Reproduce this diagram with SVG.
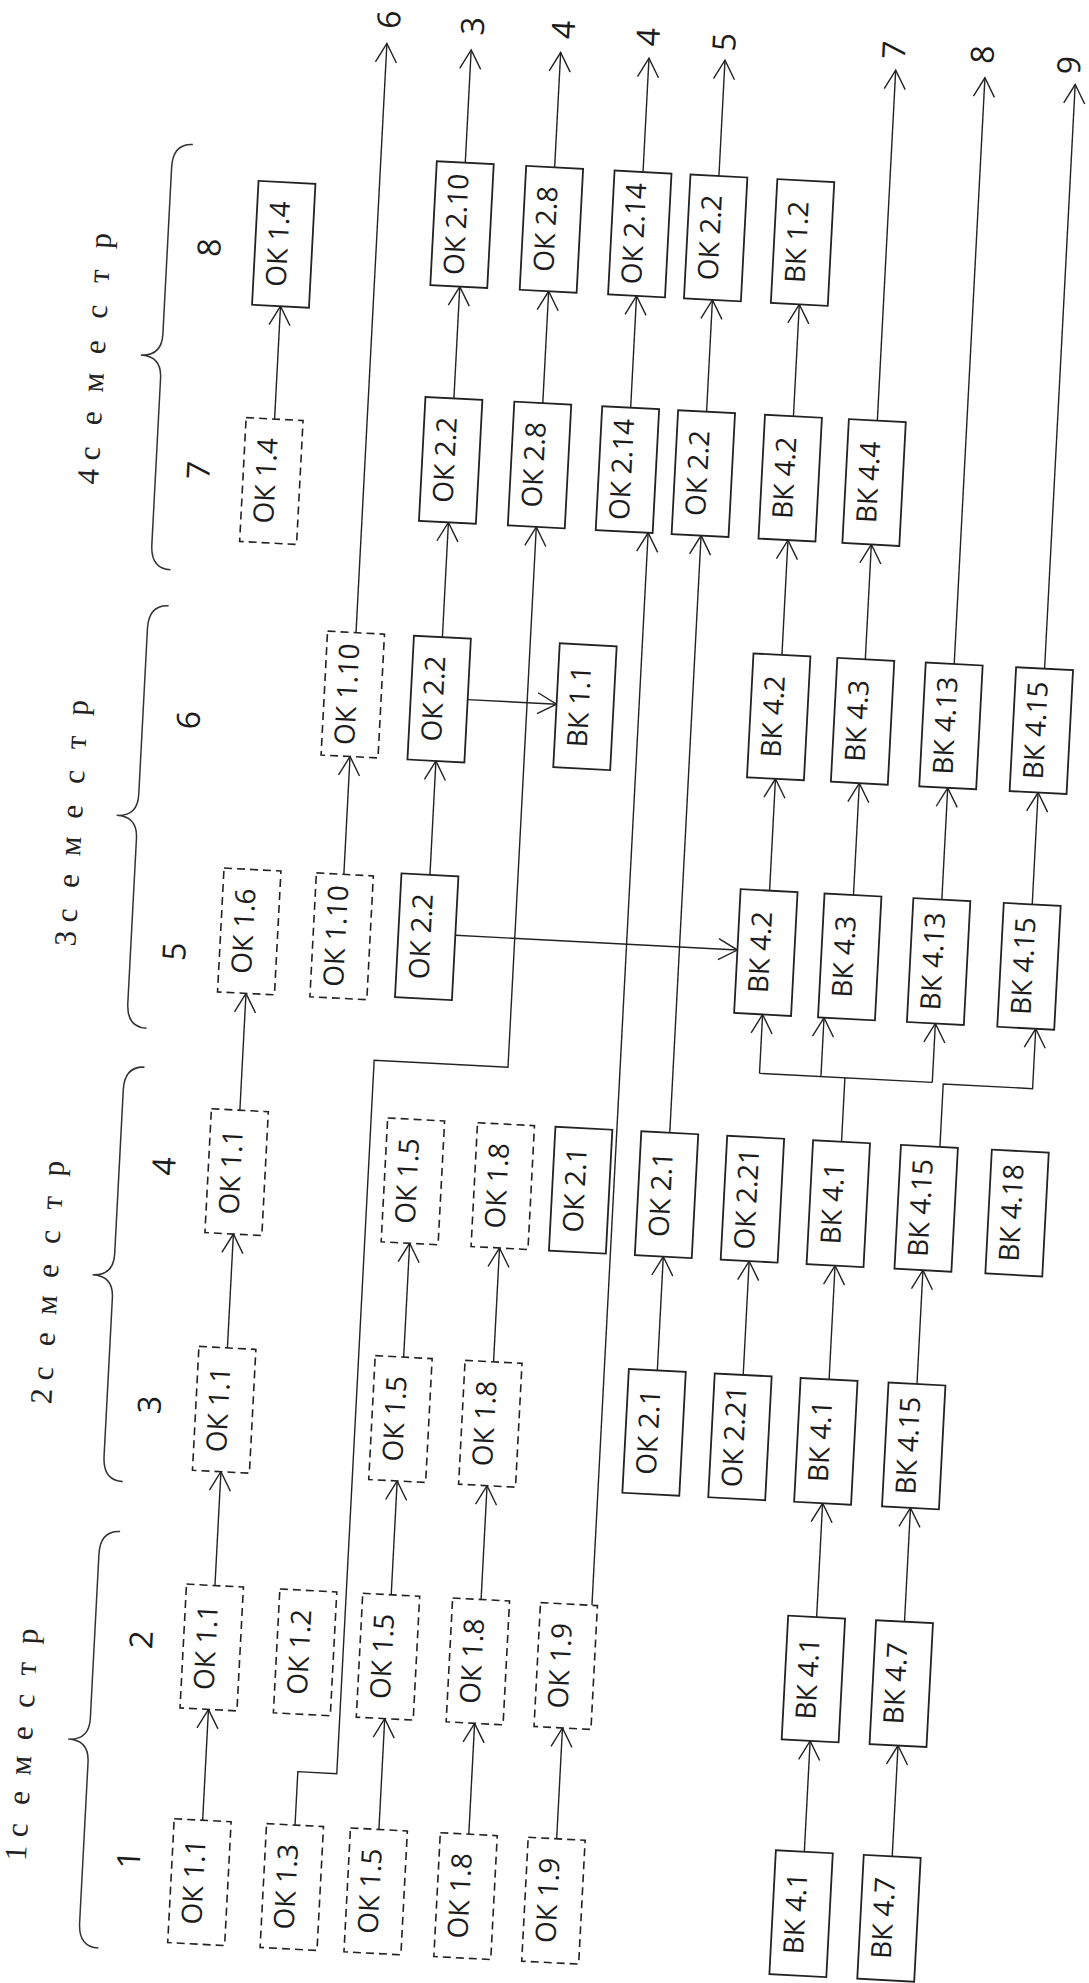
<svg xmlns="http://www.w3.org/2000/svg" width="1089" height="1983" viewBox="0 0 1089 1983">
<style>
.s{fill:#fff;stroke:#222;stroke-width:1.8}
.d{fill:#fff;stroke:#222;stroke-width:1.6;stroke-dasharray:8 5}
.t{font-family:"Open Sans","Noto Sans","DejaVu Sans",sans-serif;font-size:28px;fill:#1c1c1c;text-anchor:middle}
.n{font-family:"Open Sans","Noto Sans","DejaVu Sans",sans-serif;font-size:32px;fill:#1c1c1c;text-anchor:middle}
.sem{font-family:"Liberation Serif","DejaVu Serif",serif;font-size:31px;fill:#222;text-anchor:middle}
.c{fill:none;stroke:#222;stroke-width:1.4}
.br{fill:none;stroke:#333;stroke-width:1.5}
</style>
<defs>
<marker id="a" markerWidth="22" markerHeight="24" refX="20" refY="11.5" orient="auto" markerUnits="userSpaceOnUse" overflow="visible">
<path d="M1,1 L20,11.5 L1,22" fill="none" stroke="#222" stroke-width="1.4"/>
</marker>
</defs>
<rect width="1089" height="1983" fill="#fff"/>
<g transform="rotate(3 544.5 991.5)">

<g id="headers">
<path class="br" d="M149,1553 Q129,1553 129,1577 L129,1741 Q129,1763 108,1763 Q129,1763 129,1785 L129,1946 Q129,1970 149,1970"/>
<path class="br" d="M149,1088 Q129,1088 129,1112 L129,1276 Q129,1298 108,1298 Q129,1298 129,1320 L129,1479 Q129,1503 149,1503"/>
<path class="br" d="M149,626 Q129,626 129,650 L129,816 Q129,838 108,838 Q129,838 129,860 L129,1025 Q129,1049 149,1049"/>
<path class="br" d="M149,164 Q129,164 129,188 L129,355 Q129,377 108,377 Q129,377 129,399 L129,566 Q129,590 149,590"/>
<text class="sem" transform="translate(72,1771) rotate(-90)" x="-108.5 -97 -85.5 -69.3 -53.2 -37 -20.8 -4.7 11.5 27.7 43.8 60 76.2 92.3 108.5">1 с е м е с т р</text>
<text class="sem" transform="translate(73.5,1308) rotate(-90)" x="-114 -102.5 -91 -73.9 -56.8 -39.8 -22.7 -5.6 11.5 28.6 45.7 62.7 79.8 96.9 114">2 с е м е с т р</text>
<text class="sem" transform="translate(73.5,848) rotate(-90)" x="-115.5 -104 -92.5 -75.2 -57.8 -40.5 -23.2 -5.8 11.5 28.8 46.2 63.5 80.8 98.2 115.5">3 с е м е с т р</text>
<text class="sem" transform="translate(72,383) rotate(-90)" x="-118 -106.5 -95 -77.3 -59.5 -41.8 -24 -6.3 11.5 29.3 47 64.8 82.5 100.3 118">4 с е м е с т р</text>
<text class="n" transform="translate(186,1880) rotate(-90)">1</text>
<text class="n" transform="translate(187,1660) rotate(-90)">2</text>
<text class="n" transform="translate(183,1425) rotate(-90)">3</text>
<text class="n" transform="translate(185,1186) rotate(-90)">4</text>
<text class="n" transform="translate(184,971) rotate(-90)">5</text>
<text class="n" transform="translate(186,739) rotate(-90)">6</text>
<text class="n" transform="translate(183,489) rotate(-90)">7</text>
<text class="n" transform="translate(182,266) rotate(-90)">8</text>
</g>

<g id="connectors" class="c">
<path d="M246.5,1837 V1726" marker-end="url(#a)"/>
<path d="M423,1837 V1726" marker-end="url(#a)"/>
<path d="M513,1837 V1726" marker-end="url(#a)"/>
<path d="M601,1837 V1726" marker-end="url(#a)"/>
<path d="M849,1837 V1726" marker-end="url(#a)"/>
<path d="M937,1837 V1726" marker-end="url(#a)"/>
<path d="M246.5,1602 V1488" marker-end="url(#a)"/>
<path d="M423,1602 V1488" marker-end="url(#a)"/>
<path d="M513,1602 V1488" marker-end="url(#a)"/>
<path d="M849,1602 V1488" marker-end="url(#a)"/>
<path d="M937,1602 V1488" marker-end="url(#a)"/>
<path d="M246.5,1364 V1250" marker-end="url(#a)"/>
<path d="M423,1364 V1250" marker-end="url(#a)"/>
<path d="M513,1364 V1250" marker-end="url(#a)"/>
<path d="M677,1364 V1250" marker-end="url(#a)"/>
<path d="M763,1364 V1250" marker-end="url(#a)"/>
<path d="M849,1364 V1250" marker-end="url(#a)"/>
<path d="M937,1364 V1250" marker-end="url(#a)"/>
<path d="M246.5,1126 V1009" marker-end="url(#a)"/>
<path d="M849,1126 V1062 M763.5,1062 H936.5"/>
<path d="M763.5,1062 V1003" marker-end="url(#a)"/>
<path d="M825,1062 V1003" marker-end="url(#a)"/>
<path d="M936.5,1062 V1003" marker-end="url(#a)"/>
<path d="M947.5,1126 V1063 H1037 V1003" marker-end="url(#a)"/>
<path d="M338,885 V767" marker-end="url(#a)"/>
<path d="M424,881 V767" marker-end="url(#a)"/>
<path d="M764,879 V767" marker-end="url(#a)"/>
<path d="M848,879 V767" marker-end="url(#a)"/>
<path d="M936.5,879 V767" marker-end="url(#a)"/>
<path d="M1027,879 V767" marker-end="url(#a)"/>
<path d="M452.5,940 H735" marker-end="url(#a)"/>
<path d="M452.5,704 H541.5" marker-end="url(#a)"/>
<path d="M424,643 V528" marker-end="url(#a)"/>
<path d="M764,643 V528" marker-end="url(#a)"/>
<path d="M847.5,643 V528" marker-end="url(#a)"/>
<path d="M245,434 V321" marker-end="url(#a)"/>
<path d="M423,404 V292" marker-end="url(#a)"/>
<path d="M512,404 V292" marker-end="url(#a)"/>
<path d="M600,404 V292" marker-end="url(#a)"/>
<path d="M676,404 V292" marker-end="url(#a)"/>
<path d="M763,404 V292" marker-end="url(#a)"/>
<path d="M422,168 V55" marker-end="url(#a)"/>
<path d="M511.5,168 V53" marker-end="url(#a)"/>
<path d="M600,168 V54" marker-end="url(#a)"/>
<path d="M676,168 V52" marker-end="url(#a)"/>
<path d="M337.5,643 V53" marker-end="url(#a)"/>
<path d="M847,404 V53" marker-end="url(#a)"/>
<path d="M936.5,643 V56" marker-end="url(#a)"/>
<path d="M1027,643 V58" marker-end="url(#a)"/>
<path d="M339,1837 V1783.5 H378 V1069 H512 V528" marker-end="url(#a)"/>
<path d="M624,1602 V528" marker-end="url(#a)"/>
<path d="M677,1126 V528" marker-end="url(#a)"/>
</g>

<g id="out-labels">
<text class="n" transform="translate(349.5,29) rotate(-90)">6</text>
<text class="n" transform="translate(433.5,31) rotate(-90)">3</text>
<text class="n" transform="translate(524.5,30) rotate(-90)">4</text>
<text class="n" transform="translate(609.5,33) rotate(-90)">4</text>
<text class="n" transform="translate(685.5,34) rotate(-90)">5</text>
<text class="n" transform="translate(855.5,33) rotate(-90)">7</text>
<text class="n" transform="translate(944,33) rotate(-90)">8</text>
<text class="n" transform="translate(1031,39) rotate(-90)">9</text>
</g>

<!-- semester 1 -->
<g id="s1-ok11"><rect class="d" x="218" y="1837" width="57" height="124"/><text class="t" transform="translate(246.5,1899) rotate(-90)" y="4">ОК 1.1</text></g>
<g id="s1-ok13"><rect class="d" x="310.5" y="1837" width="57" height="124"/><text class="t" transform="translate(339,1899) rotate(-90)" y="4">ОК 1.3</text></g>
<g id="s1-ok15"><rect class="d" x="394.5" y="1837" width="57" height="124"/><text class="t" transform="translate(423,1899) rotate(-90)" y="4">ОК 1.5</text></g>
<g id="s1-ok18"><rect class="d" x="484.5" y="1837" width="57" height="124"/><text class="t" transform="translate(513,1899) rotate(-90)" y="4">ОК 1.8</text></g>
<g id="s1-ok19"><rect class="d" x="572.5" y="1837" width="57" height="124"/><text class="t" transform="translate(601,1899) rotate(-90)" y="4">ОК 1.9</text></g>
<g id="s1-vk41"><rect class="s" x="820.5" y="1837" width="57" height="124"/><text class="t" transform="translate(849,1899) rotate(-90)" y="4">ВК 4.1</text></g>
<g id="s1-vk47"><rect class="s" x="908.5" y="1837" width="57" height="124"/><text class="t" transform="translate(937,1899) rotate(-90)" y="4">ВК 4.7</text></g>

<!-- semester 2 -->
<g id="s2-ok11"><rect class="d" x="218" y="1602" width="57" height="124"/><text class="t" transform="translate(246.5,1664) rotate(-90)" y="4">ОК 1.1</text></g>
<g id="s2-ok12"><rect class="d" x="311.5" y="1602" width="57" height="124"/><text class="t" transform="translate(340,1664) rotate(-90)" y="4">ОК 1.2</text></g>
<g id="s2-ok15"><rect class="d" x="394.5" y="1602" width="57" height="124"/><text class="t" transform="translate(423,1664) rotate(-90)" y="4">ОК 1.5</text></g>
<g id="s2-ok18"><rect class="d" x="484.5" y="1602" width="57" height="124"/><text class="t" transform="translate(513,1664) rotate(-90)" y="4">ОК 1.8</text></g>
<g id="s2-ok19"><rect class="d" x="572.5" y="1602" width="57" height="124"/><text class="t" transform="translate(601,1664) rotate(-90)" y="4">ОК 1.9</text></g>
<g id="s2-vk41"><rect class="s" x="820.5" y="1602" width="57" height="124"/><text class="t" transform="translate(849,1664) rotate(-90)" y="4">ВК 4.1</text></g>
<g id="s2-vk47"><rect class="s" x="908.5" y="1602" width="57" height="124"/><text class="t" transform="translate(937,1664) rotate(-90)" y="4">ВК 4.7</text></g>

<!-- semester 3 -->
<g id="s3-ok11"><rect class="d" x="218" y="1364" width="57" height="124"/><text class="t" transform="translate(246.5,1426) rotate(-90)" y="4">ОК 1.1</text></g>
<g id="s3-ok15"><rect class="d" x="394.5" y="1364" width="57" height="124"/><text class="t" transform="translate(423,1426) rotate(-90)" y="4">ОК 1.5</text></g>
<g id="s3-ok18"><rect class="d" x="484.5" y="1364" width="57" height="124"/><text class="t" transform="translate(513,1426) rotate(-90)" y="4">ОК 1.8</text></g>
<g id="s3-ok21"><rect class="s" x="648.5" y="1364" width="57" height="124"/><text class="t" transform="translate(677,1426) rotate(-90)" y="4">ОК 2.1</text></g>
<g id="s3-ok221"><rect class="s" x="734.5" y="1364" width="57" height="124"/><text class="t" transform="translate(763,1426) rotate(-90)" y="4">ОК 2.21</text></g>
<g id="s3-vk41"><rect class="s" x="820.5" y="1364" width="57" height="124"/><text class="t" transform="translate(849,1426) rotate(-90)" y="4">ВК 4.1</text></g>
<g id="s3-vk415"><rect class="s" x="908.5" y="1364" width="57" height="124"/><text class="t" transform="translate(937,1426) rotate(-90)" y="4">ВК 4.15</text></g>

<!-- semester 4 -->
<g id="s4-ok11"><rect class="d" x="218" y="1126" width="57" height="124"/><text class="t" transform="translate(246.5,1188) rotate(-90)" y="4">ОК 1.1</text></g>
<g id="s4-ok15"><rect class="d" x="394.5" y="1126" width="57" height="124"/><text class="t" transform="translate(423,1188) rotate(-90)" y="4">ОК 1.5</text></g>
<g id="s4-ok18"><rect class="d" x="484.5" y="1126" width="57" height="124"/><text class="t" transform="translate(513,1188) rotate(-90)" y="4">ОК 1.8</text></g>
<g id="s4-ok21a"><rect class="s" x="562.5" y="1126" width="57" height="124"/><text class="t" transform="translate(591,1188) rotate(-90)" y="4">ОК 2.1</text></g>
<g id="s4-ok21b"><rect class="s" x="648.5" y="1126" width="57" height="124"/><text class="t" transform="translate(677,1188) rotate(-90)" y="4">ОК 2.1</text></g>
<g id="s4-ok221"><rect class="s" x="734.5" y="1126" width="57" height="124"/><text class="t" transform="translate(763,1188) rotate(-90)" y="4">ОК 2.21</text></g>
<g id="s4-vk41"><rect class="s" x="820.5" y="1126" width="57" height="124"/><text class="t" transform="translate(849,1188) rotate(-90)" y="4">ВК 4.1</text></g>
<g id="s4-vk415"><rect class="s" x="908.5" y="1126" width="57" height="124"/><text class="t" transform="translate(937,1188) rotate(-90)" y="4">ВК 4.15</text></g>
<g id="s4-vk418"><rect class="s" x="999.5" y="1126" width="57" height="124"/><text class="t" transform="translate(1028,1188) rotate(-90)" y="4">ВК 4.18</text></g>

<!-- semester 5 -->
<g id="s5-ok16"><rect class="d" x="218" y="885" width="57" height="124"/><text class="t" transform="translate(246.5,947) rotate(-90)" y="4">ОК 1.6</text></g>
<g id="s5-ok110"><rect class="d" x="310.5" y="885" width="57" height="124"/><text class="t" transform="translate(339,947) rotate(-90)" y="4">ОК 1.10</text></g>
<g id="s5-ok22"><rect class="s" x="395.5" y="881" width="57" height="124"/><text class="t" transform="translate(424,943) rotate(-90)" y="4">ОК 2.2</text></g>
<g id="s5-vk42"><rect class="s" x="735" y="879" width="57" height="124"/><text class="t" transform="translate(763.5,941) rotate(-90)" y="4">ВК 4.2</text></g>
<g id="s5-vk43"><rect class="s" x="819" y="879" width="57" height="124"/><text class="t" transform="translate(847.5,941) rotate(-90)" y="4">ВК 4.3</text></g>
<g id="s5-vk413"><rect class="s" x="908" y="879" width="57" height="124"/><text class="t" transform="translate(936.5,941) rotate(-90)" y="4">ВК 4.13</text></g>
<g id="s5-vk415"><rect class="s" x="998.5" y="879" width="57" height="124"/><text class="t" transform="translate(1027,941) rotate(-90)" y="4">ВК 4.15</text></g>

<!-- semester 6 -->
<g id="s6-ok110"><rect class="d" x="309" y="643" width="57" height="124"/><text class="t" transform="translate(337.5,705) rotate(-90)" y="4">ОК 1.10</text></g>
<g id="s6-ok22"><rect class="s" x="395.5" y="643" width="57" height="124"/><text class="t" transform="translate(424,705) rotate(-90)" y="4">ОК 2.2</text></g>
<g id="s6-vk11"><rect class="s" x="541.5" y="643" width="57" height="124"/><text class="t" transform="translate(570,705) rotate(-90)" y="4">ВК 1.1</text></g>
<g id="s6-vk42"><rect class="s" x="735.5" y="643" width="57" height="124"/><text class="t" transform="translate(764,705) rotate(-90)" y="4">ВК 4.2</text></g>
<g id="s6-vk43"><rect class="s" x="819.5" y="643" width="57" height="124"/><text class="t" transform="translate(848,705) rotate(-90)" y="4">ВК 4.3</text></g>
<g id="s6-vk413"><rect class="s" x="908" y="643" width="57" height="124"/><text class="t" transform="translate(936.5,705) rotate(-90)" y="4">ВК 4.13</text></g>
<g id="s6-vk415"><rect class="s" x="998.5" y="643" width="57" height="124"/><text class="t" transform="translate(1027,705) rotate(-90)" y="4">ВК 4.15</text></g>

<!-- semester 7 -->
<g id="s7-ok14"><rect class="d" x="216.5" y="434" width="57" height="124"/><text class="t" transform="translate(245,496) rotate(-90)" y="4">ОК 1.4</text></g>
<g id="s7-ok22a"><rect class="s" x="394.5" y="404" width="57" height="124"/><text class="t" transform="translate(423,466) rotate(-90)" y="4">ОК 2.2</text></g>
<g id="s7-ok28"><rect class="s" x="483.5" y="404" width="57" height="124"/><text class="t" transform="translate(512,466) rotate(-90)" y="4">ОК 2.8</text></g>
<g id="s7-ok214"><rect class="s" x="571.5" y="404" width="57" height="124"/><text class="t" transform="translate(600,466) rotate(-90)" y="4">ОК 2.14</text></g>
<g id="s7-ok22b"><rect class="s" x="647.5" y="404" width="57" height="124"/><text class="t" transform="translate(676,466) rotate(-90)" y="4">ОК 2.2</text></g>
<g id="s7-vk42"><rect class="s" x="734.5" y="404" width="57" height="124"/><text class="t" transform="translate(763,466) rotate(-90)" y="4">ВК 4.2</text></g>
<g id="s7-vk44"><rect class="s" x="818.5" y="404" width="57" height="124"/><text class="t" transform="translate(847,466) rotate(-90)" y="4">ВК 4.4</text></g>

<!-- semester 8 -->
<g id="s8-ok14"><rect class="s" x="216.5" y="197" width="57" height="124"/><text class="t" transform="translate(245,259) rotate(-90)" y="4">ОК 1.4</text></g>
<g id="s8-ok210"><rect class="s" x="393.5" y="168" width="57" height="124"/><text class="t" transform="translate(422,230) rotate(-90)" y="4">ОК 2.10</text></g>
<g id="s8-ok28"><rect class="s" x="483" y="168" width="57" height="124"/><text class="t" transform="translate(511.5,230) rotate(-90)" y="4">ОК 2.8</text></g>
<g id="s8-ok214"><rect class="s" x="571.5" y="168" width="57" height="124"/><text class="t" transform="translate(600,230) rotate(-90)" y="4">ОК 2.14</text></g>
<g id="s8-ok22"><rect class="s" x="647.5" y="168" width="57" height="124"/><text class="t" transform="translate(676,230) rotate(-90)" y="4">ОК 2.2</text></g>
<g id="s8-vk12"><rect class="s" x="734.5" y="168" width="57" height="124"/><text class="t" transform="translate(763,230) rotate(-90)" y="4">ВК 1.2</text></g>

</g>
</svg>
